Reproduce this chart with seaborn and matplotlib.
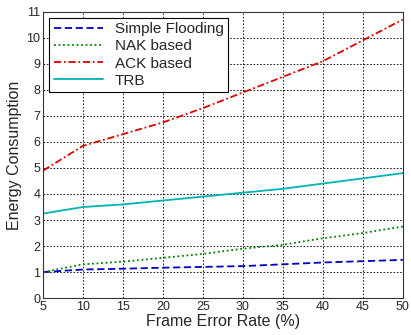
import pandas as pd
import matplotlib
matplotlib.use("Agg")
import matplotlib.pyplot as plt
import seaborn as sns

# frame error rate (%)
fer = [5, 10, 15, 20, 25, 30, 35, 40, 45, 50]

simple_flooding = [1.0, 1.1, 1.13, 1.17, 1.2, 1.23, 1.3, 1.37, 1.42, 1.47]
nak_based = [1.0, 1.3, 1.4, 1.55, 1.7, 1.9, 2.05, 2.3, 2.5, 2.75]
ack_based = [4.9, 5.85, 6.3, 6.75, 7.3, 7.9, 8.5, 9.1, 9.9, 10.7]
trb = [3.25, 3.5, 3.6, 3.75, 3.9, 4.05, 4.2, 4.4, 4.6, 4.8]

series = ["Simple Flooding", "NAK based", "ACK based", "TRB"]
values = [simple_flooding, nak_based, ack_based, trb]

rows = []
for name, vals in zip(series, values):
    for x, y in zip(fer, vals):
        rows.append({"fer": x, "energy": y, "scheme": name})
df = pd.DataFrame(rows)

sns.set_style("white")
plt.rcParams["font.family"] = ["Liberation Sans", "DejaVu Sans"]

colors = {"Simple Flooding": "#0000c8", "NAK based": "#008000",
          "ACK based": "#e00000", "TRB": "#00b4b4"}
styles = {"Simple Flooding": (0, (4, 2)), "NAK based": (0, (1, 1.5)),
          "ACK based": (0, (4, 1.5, 1, 1.5)), "TRB": "-"}

fig = plt.figure(figsize=(4.11, 3.35), dpi=100)
ax = fig.add_axes([0.105, 0.11, 0.875, 0.855])

for name in series:
    sub = df[df["scheme"] == name]
    sns.lineplot(data=sub, x="fer", y="energy", ax=ax, color=colors[name],
                 linestyle=styles[name], linewidth=1.3, label=name)

ax.set_xlim(5, 50)
ax.set_ylim(0, 11)
ax.set_xticks(range(5, 51, 5))
ax.set_yticks(range(0, 12))
ax.tick_params(labelsize=9, direction="in", length=3, pad=2)
ax.grid(True, color="black", linestyle=(0, (2, 2)), linewidth=0.6)
for s in ax.spines.values():
    s.set_color("#333333")
    s.set_linewidth(0.8)

ax.set_xlabel("Frame Error Rate (%)", fontsize=11.5, labelpad=1)
ax.set_ylabel("Energy Consumption", fontsize=11.5, labelpad=3)

leg = ax.legend(loc="upper left", fontsize=11, frameon=True, fancybox=False,
                borderaxespad=0.4, handlelength=3.2, labelspacing=0.2,
                borderpad=0.3)
leg.get_frame().set_edgecolor("black")
leg.get_frame().set_linewidth(0.8)
leg.get_frame().set_alpha(1)

fig.savefig("out.png", dpi=100)
